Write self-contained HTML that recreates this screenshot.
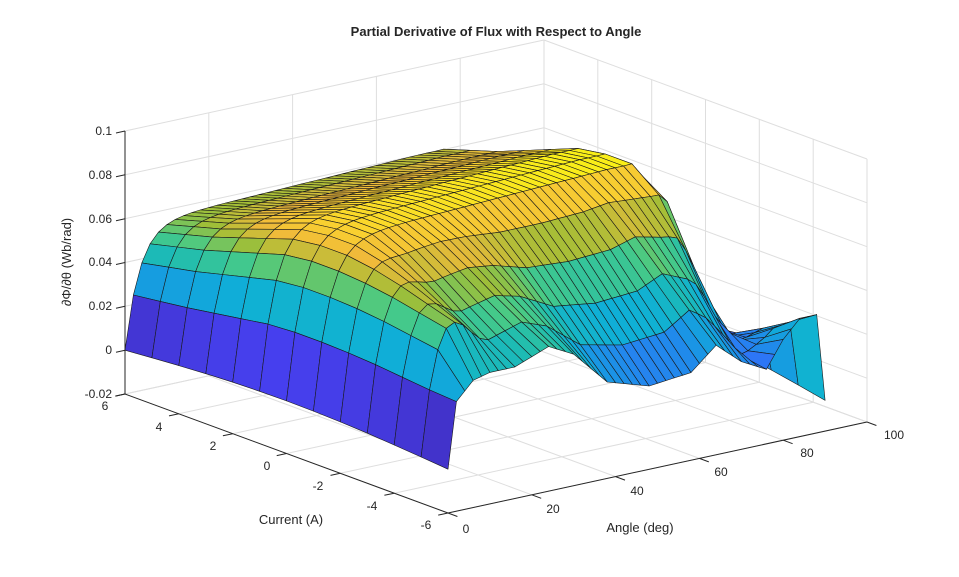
<!DOCTYPE html>
<html><head><meta charset="utf-8"><style>
html,body{margin:0;padding:0;background:#fff;}
svg{display:block;font-family:"Liberation Sans",Arial,sans-serif;}
</style></head><body>
<svg id="s" width="959" height="577" viewBox="0 0 959 577" xmlns="http://www.w3.org/2000/svg">
<rect width="959" height="577" fill="#fff"/>
<g id="grid" stroke="#dedede" stroke-width="1" fill="none"></g>
<g id="surf" stroke="#1a1a1a" stroke-width="0.6" stroke-linejoin="round"></g>
<g id="axes" stroke="#262626" stroke-width="1" fill="none"></g>
<g fill="#262626" font-size="12">
<text x="112" y="135" text-anchor="end">0.1</text>
<text x="112" y="179" text-anchor="end">0.08</text>
<text x="112" y="223" text-anchor="end">0.06</text>
<text x="112" y="266" text-anchor="end">0.04</text>
<text x="112" y="310" text-anchor="end">0.02</text>
<text x="112" y="354" text-anchor="end">0</text>
<text x="112" y="398" text-anchor="end">-0.02</text>
<text x="105" y="410" text-anchor="middle">6</text>
<text x="159" y="431" text-anchor="middle">4</text>
<text x="213" y="450" text-anchor="middle">2</text>
<text x="267" y="470" text-anchor="middle">0</text>
<text x="318" y="490" text-anchor="middle">-2</text>
<text x="372" y="510" text-anchor="middle">-4</text>
<text x="426" y="529" text-anchor="middle">-6</text>
<text x="466" y="533" text-anchor="middle">0</text>
<text x="553" y="513" text-anchor="middle">20</text>
<text x="637" y="495" text-anchor="middle">40</text>
<text x="721" y="476" text-anchor="middle">60</text>
<text x="807" y="457" text-anchor="middle">80</text>
<text x="894" y="439" text-anchor="middle">100</text>
<text x="291" y="524" text-anchor="middle" font-size="13">Current (A)</text>
<text x="640" y="532" text-anchor="middle" font-size="13">Angle (deg)</text>
<text x="0" y="0" text-anchor="middle" font-size="13" transform="translate(71,262) rotate(-90)">∂Φ/∂θ  (Wb/rad)</text>
<text x="496" y="36" text-anchor="middle" font-size="13" font-weight="bold">Partial Derivative of Flux with Respect to Angle</text>
</g>
</svg>
<script>
(function(){
var NS="http://www.w3.org/2000/svg";
function P(a,c,z){return [448+a*4.19-(c+6)/12*323, 513-a*0.91-(c+6)/12*119-(z+0.02)/0.12*263];}
function line(g,p,q){var l=document.createElementNS(NS,"line");l.setAttribute("x1",p[0].toFixed(1));l.setAttribute("y1",p[1].toFixed(1));l.setAttribute("x2",q[0].toFixed(1));l.setAttribute("y2",q[1].toFixed(1));g.appendChild(l);}
var G=document.getElementById("grid");
var zs=[-0.02,0,0.02,0.04,0.06,0.08,0.1];
for(var a=20;a<=100;a+=20) line(G,P(a,6,-0.02),P(a,6,0.1));
zs.forEach(function(z){line(G,P(0,6,z),P(100,6,z));});
for(var c=-6;c<=6;c+=2) line(G,P(100,c,-0.02),P(100,c,0.1));
zs.forEach(function(z){line(G,P(100,-6,z),P(100,6,z));});
for(var a=0;a<=100;a+=20) line(G,P(a,-6,-0.02),P(a,6,-0.02));
for(var c=-6;c<=6;c+=2) line(G,P(0,c,-0.02),P(100,c,-0.02));
var A=document.getElementById("axes");
line(A,P(0,6,-0.02),P(0,6,0.1));
line(A,P(0,6,-0.02),P(0,-6,-0.02));
line(A,P(0,-6,-0.02),P(100,-6,-0.02));
zs.forEach(function(z){var p=P(0,6,z);line(A,p,[p[0]-9,p[1]+2]);});
for(var c=-6;c<=6;c+=2){var p=P(0,c,-0.02);line(A,p,[p[0]-9.8,p[1]+2.1]);}
for(var a=0;a<=100;a+=20){var p=P(a,-6,-0.02);line(A,p,[p[0]+9.4,p[1]+3.5]);}
function ss(e0,e1,x){var t=Math.min(1,Math.max(0,(x-e0)/(e1-e0)));return t*t*(3-2*t);}
function interp(tab,x){for(var i=1;i<tab.length;i++){if(x<=tab[i][0]){var u=(x-tab[i-1][0])/(tab[i][0]-tab[i-1][0]);return tab[i-1][1]+u*(tab[i][1]-tab[i-1][1]);}}return tab[tab.length-1][1];}
var Pt=[0.072,0.076,0.079,0.082,0.084,0.085,0.085,0.083,0.078,0.073,0.068,0.064,0.06];
var front=[[0,0],[2,0.03],[6,0.038],[10,0.04],[16,0.04],[24,0.046],[30,0.04],[38,0.024],[48,0.018],[58,0.02],[64,0.03],[70,0.02],[76,0.014],[80,0.026],[84,0.034],[88,0.034],[90,-0.006]];
function main(a,c){
  var p=Pt[c+6]*(0.93+0.07*Math.min(1,a/70));
  var rise=1-Math.exp(-a/3.5);
  var aE=76-Math.max(0,(-c-2))*3;
  var fall=1-ss(aE,aE+14,a);
  var R=0.004*Math.sin(2*Math.PI*(a-68)/18)*ss(74,84,a);
  return p*rise*fall+R;
}
function f(a,c){
  if(a===0) return 0.004*Math.sin(Math.PI*(c+6)/12);
  var w=Math.min(1,Math.max(0,(-c-1)/5));w=Math.pow(w,1.3);
  if(c>-6) w*=ss(4,16,a);
  var m=main(a,c), fr=interp(front,a);
  return (1-w)*m+w*fr;
}
var stops=[[0,62,38,168],[0.1,71,67,248],[0.2,44,120,246],[0.3,25,150,228],[0.4,15,176,214],[0.5,30,188,178],[0.6,72,202,134],[0.7,160,190,55],[0.8,240,186,58],[0.9,250,212,46],[1,249,251,14]];
function col(z){var t=(z+0.004)/0.092;t=Math.max(0,Math.min(1,t));
 for(var i=1;i<stops.length;i++){if(t<=stops[i][0]){var s0=stops[i-1],s1=stops[i],u=(t-s0[0])/(s1[0]-s0[0]);
 return "rgb("+Math.round(s0[1]+u*(s1[1]-s0[1]))+","+Math.round(s0[2]+u*(s1[2]-s0[2]))+","+Math.round(s0[3]+u*(s1[3]-s0[3]))+")";}}
 return "rgb(249,251,14)";}
var faces=[];
for(var a=0;a<90;a+=2){for(var c=-6;c<6;c++){
  var z00=f(a,c),z10=f(a+2,c),z11=f(a+2,c+1),z01=f(a,c+1);
  var depth=0.91*(a+1)+119*((c+0.5+6)/12);
  faces.push({d:depth,pts:[P(a,c,z00),P(a+2,c,z10),P(a+2,c+1,z11),P(a,c+1,z01)],col:col(z00)});
}}
faces.sort(function(x,y){return y.d-x.d;});
var S=document.getElementById("surf");
faces.forEach(function(F){var pg=document.createElementNS(NS,"polygon");
 pg.setAttribute("points",F.pts.map(function(p){return p[0].toFixed(1)+","+p[1].toFixed(1);}).join(" "));
 pg.setAttribute("fill",F.col);S.appendChild(pg);});
})();
</script>
</body></html>
